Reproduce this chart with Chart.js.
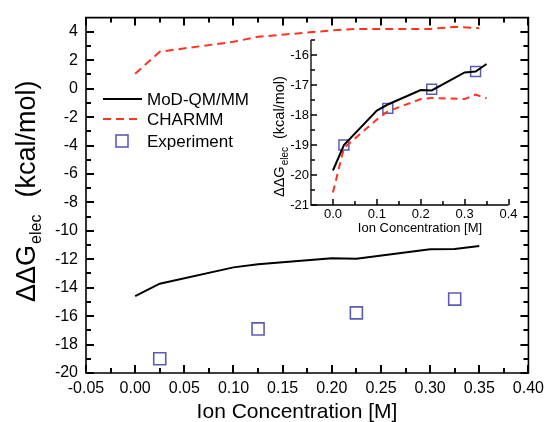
<!DOCTYPE html>
<html>
<head>
<meta charset="utf-8">
<script src="https://cdn.jsdelivr.net/npm/chart.js@4/dist/chart.umd.min.js"></script>
<style>
  html, body { margin: 0; padding: 0; background: #fff; }
  #wrap { position: relative; width: 550px; height: 422px; }
  #main { position: absolute; left: 0; top: 0; }
  #inset { position: absolute; left: 250px; top: 30px; }
</style>
</head>
<body>
<div id="wrap">
  <canvas id="main" width="550" height="422"></canvas>
  <canvas id="inset" width="275" height="215"></canvas>
</div>
<script>
// Dados do gráfico principal
const concentracao = [0, 0.025, 0.1, 0.125, 0.2, 0.225, 0.3, 0.325, 0.35];
const modQmMm = [-14.6, -13.72, -12.57, -12.35, -11.93, -11.97, -11.3, -11.27, -11.07];
const charmm = [1.05, 2.6, 3.3, 3.65, 4.1, 4.2, 4.2, 4.35, 4.25];
const concExperimento = [0.025, 0.125, 0.225, 0.325];
const experimento = [-19.0, -16.9, -15.77, -14.8];

// Dados do gráfico interno (inset)
const insetModQmMm = [-19.85, -19.0, -17.85, -17.65, -17.17, -17.18, -16.58, -16.55, -16.3];
const insetCharmm = [-20.58, -19.1, -18.15, -17.88, -17.47, -17.43, -17.47, -17.32, -17.44];
const insetExperimento = [-19.0, -17.78, -17.14, -16.55];

// Marcas dos eixos
const xTicks = [-0.05, 0, 0.05, 0.1, 0.15, 0.2, 0.25, 0.3, 0.35, 0.4];
const yTicks = [-20, -18, -16, -14, -12, -10, -8, -6, -4, -2, 0, 2, 4];
const insetXTicks = [0, 0.1, 0.2, 0.3, 0.4];
const insetYTicks = [-21, -20, -19, -18, -17, -16];

const fonte = '"Liberation Sans", Arial, sans-serif';
const vermelho = '#ff3322';
const azul = '#5a5cb4';

// junta x e y em pares {x, y}
function pares(xs, ys) {
    return xs.map((x, i) => ({ x: x, y: ys[i] }));
}

// pontos no meio das marcas principais (marcas menores)
function meios(ticks) {
    const r = [];
    for (let i = 0; i < ticks.length - 1; i++) r.push((ticks[i] + ticks[i + 1]) / 2);
    return r;
}

// Moldura e marcas para dentro (config fica no closure, não nas options)
function criarMoldura(cfg) {
    return {
        id: 'moldura',
        afterDraw(chart) {
            const { ctx, chartArea: a } = chart;
            const x = chart.scales.x, y = chart.scales.y;
            ctx.save();
            ctx.strokeStyle = '#000';
            ctx.setLineDash([]);
            // linhas do eixo
            ctx.lineWidth = cfg.largura;
            ctx.beginPath();
            if (cfg.caixa) {
                ctx.rect(a.left, a.top, a.right - a.left, a.bottom - a.top);
            } else {
                ctx.moveTo(a.left, a.top);
                ctx.lineTo(a.left, a.bottom);
                ctx.lineTo(a.right, a.bottom);
            }
            ctx.stroke();
            // marcas, arredondadas ao pixel para ficarem nítidas
            ctx.lineWidth = cfg.larguraMarca;
            ctx.beginPath();
            cfg.xMaior.concat(cfg.xMenor).forEach((v, i) => {
                const len = i < cfg.xMaior.length ? cfg.maior : cfg.menor;
                const px = Math.round(x.getPixelForValue(v));
                ctx.moveTo(px, a.bottom);
                ctx.lineTo(px, a.bottom - len);
                if (cfg.caixa) {
                    ctx.moveTo(px, a.top);
                    ctx.lineTo(px, a.top + len);
                }
            });
            cfg.yMaior.concat(cfg.yMenor).forEach((v, i) => {
                const len = i < cfg.yMaior.length ? cfg.maior : cfg.menor;
                const py = Math.round(y.getPixelForValue(v));
                ctx.moveTo(a.left, py);
                ctx.lineTo(a.left + len, py);
                if (cfg.caixa) {
                    ctx.moveTo(a.right, py);
                    ctx.lineTo(a.right - len, py);
                }
            });
            ctx.stroke();
            ctx.restore();
        }
    };
}

// Títulos dos eixos (com subscrito "elec")
function criarTitulos(o) {
    return {
        id: 'titulos',
        afterDraw(chart) {
            const ctx = chart.ctx;
            ctx.save();
            ctx.fillStyle = '#000';
            ctx.textBaseline = 'alphabetic';
            // eixo x
            ctx.font = o.tamX + 'px ' + fonte;
            ctx.textAlign = 'center';
            ctx.fillText('Ion Concentration [M]', o.xTitulo[0], o.xTitulo[1]);
            // eixo y, rodado
            ctx.translate(o.yTitulo[0], o.yTitulo[1]);
            ctx.rotate(-Math.PI / 2);
            ctx.textAlign = 'left';
            ctx.font = o.tamY + 'px ' + fonte;
            ctx.fillText('ΔΔG', 0, 0);
            let pos = ctx.measureText('ΔΔG').width;
            ctx.font = o.tamSub + 'px ' + fonte;
            ctx.fillText('elec', pos + 1, o.desceSub);
            pos += ctx.measureText('elec').width + 1 + o.espaco;
            ctx.font = o.tamY + 'px ' + fonte;
            ctx.fillText('(kcal/mol)', pos, 0);
            ctx.restore();
        }
    };
}

// Legenda desenhada dentro da área do gráfico
const legendaPlugin = {
    id: 'legenda',
    afterDraw(chart) {
        const ctx = chart.ctx;
        const ds = chart.data.datasets;
        const linhas = [99, 119, 141];
        ctx.save();
        ctx.font = '17px ' + fonte;
        ctx.fillStyle = '#000';
        ctx.textBaseline = 'middle';
        ds.forEach((d, i) => {
            const yy = linhas[i];
            ctx.strokeStyle = d.borderColor;
            ctx.lineWidth = 2;
            if (d.showLine) {
                ctx.setLineDash(d.borderDash || []);
                ctx.beginPath();
                ctx.moveTo(103, yy);
                ctx.lineTo(142, yy);
                ctx.stroke();
                ctx.setLineDash([]);
            } else {
                ctx.lineWidth = d.pointBorderWidth;
                ctx.strokeRect(116, yy - 6, 12, 12);
            }
            ctx.fillText(d.label, 147, yy + 1);
        });
        ctx.restore();
    }
};

// Gráfico principal
new Chart(document.getElementById('main'), {
    type: 'scatter',
    data: {
        datasets: [
            { label: 'MoD-QM/MM', data: pares(concentracao, modQmMm), showLine: true,
              borderColor: '#000', borderWidth: 2, pointRadius: 0 },
            { label: 'CHARMM', data: pares(concentracao, charmm), showLine: true,
              borderColor: vermelho, borderWidth: 2, borderDash: [8, 5], pointRadius: 0 },
            { label: 'Experiment', data: pares(concExperimento, experimento), showLine: false,
              pointStyle: 'rect', pointRadius: 8.5, pointBorderWidth: 1.6,
              borderColor: azul, pointBorderColor: azul, pointBackgroundColor: 'rgba(0,0,0,0)' }
        ]
    },
    options: {
        responsive: false,
        animation: false,
        devicePixelRatio: 1,
        layout: { padding: { top: 12, right: 20, left: 0, bottom: 0 } },
        plugins: { legend: { display: false }, tooltip: { enabled: false } },
        scales: {
            x: {
                type: 'linear', min: -0.05, max: 0.40,
                afterBuildTicks: s => { s.ticks = xTicks.map(v => ({ value: v })); },
                afterFit: s => { s.height = 49; },
                grid: { display: false, drawTicks: false },
                border: { display: false },
                ticks: { color: '#000', font: { family: fonte, size: 16 }, padding: 6,
                         autoSkip: false, maxRotation: 0, callback: v => v.toFixed(2) }
            },
            y: {
                type: 'linear', min: -20, max: 5,
                afterBuildTicks: s => { s.ticks = yTicks.map(v => ({ value: v })); },
                afterFit: s => { s.width = 86; },
                grid: { display: false, drawTicks: false },
                border: { display: false },
                ticks: { color: '#000', font: { family: fonte, size: 16 }, padding: 8,
                         autoSkip: false, callback: v => String(v) }
            }
        }
    },
    plugins: [
        criarMoldura({ caixa: true, largura: 1.6, larguraMarca: 2, maior: 8, menor: 5,
                       xMaior: xTicks, xMenor: meios(xTicks),
                       yMaior: yTicks, yMenor: meios(yTicks) }),
        criarTitulos({ tamX: 21, tamY: 27, tamSub: 16, desceSub: 6, espaco: 17,
                       xTitulo: [297, 418], yTitulo: [35, 302] }),
        legendaPlugin
    ]
});

// Gráfico interno
new Chart(document.getElementById('inset'), {
    type: 'scatter',
    data: {
        datasets: [
            { label: 'MoD-QM/MM', data: pares(concentracao, insetModQmMm), showLine: true,
              borderColor: '#000', borderWidth: 2, pointRadius: 0 },
            { label: 'CHARMM', data: pares(concentracao, insetCharmm), showLine: true,
              borderColor: vermelho, borderWidth: 2, borderDash: [7, 5], pointRadius: 0 },
            { label: 'Experiment', data: pares(concExperimento, insetExperimento), showLine: false,
              pointStyle: 'rect', pointRadius: 7, pointBorderWidth: 1.5,
              borderColor: azul, pointBorderColor: azul, pointBackgroundColor: '#fff' }
        ]
    },
    options: {
        responsive: false,
        animation: false,
        devicePixelRatio: 1,
        layout: { padding: { top: 10, right: 16.5, left: 0, bottom: 0 } },
        plugins: { legend: { display: false }, tooltip: { enabled: false } },
        scales: {
            x: {
                type: 'linear', min: -0.05, max: 0.40,
                afterBuildTicks: s => { s.ticks = insetXTicks.map(v => ({ value: v })); },
                afterFit: s => { s.height = 40; },
                grid: { display: false, drawTicks: false },
                border: { display: false },
                ticks: { color: '#000', font: { family: fonte, size: 13 }, padding: 2,
                         autoSkip: false, maxRotation: 0, callback: v => v.toFixed(1) }
            },
            y: {
                type: 'linear', min: -21, max: -15.5,
                afterBuildTicks: s => { s.ticks = insetYTicks.map(v => ({ value: v })); },
                afterFit: s => { s.width = 61; },
                grid: { display: false, drawTicks: false },
                border: { display: false },
                ticks: { color: '#000', font: { family: fonte, size: 13 }, padding: 2,
                         autoSkip: false, callback: v => String(v) }
            }
        }
    },
    plugins: [
        criarMoldura({ caixa: false, largura: 1.3, larguraMarca: 1.5, maior: 6, menor: 4,
                       xMaior: insetXTicks, xMenor: [0.05, 0.15, 0.25, 0.35],
                       yMaior: insetYTicks, yMenor: meios(insetYTicks).concat([-15.5]) }),
        criarTitulos({ tamX: 13, tamY: 14.5, tamSub: 10, desceSub: 4, espaco: 8,
                       xTitulo: [170, 202], yTitulo: [34, 167] })
    ]
});
</script>
</body>
</html>
